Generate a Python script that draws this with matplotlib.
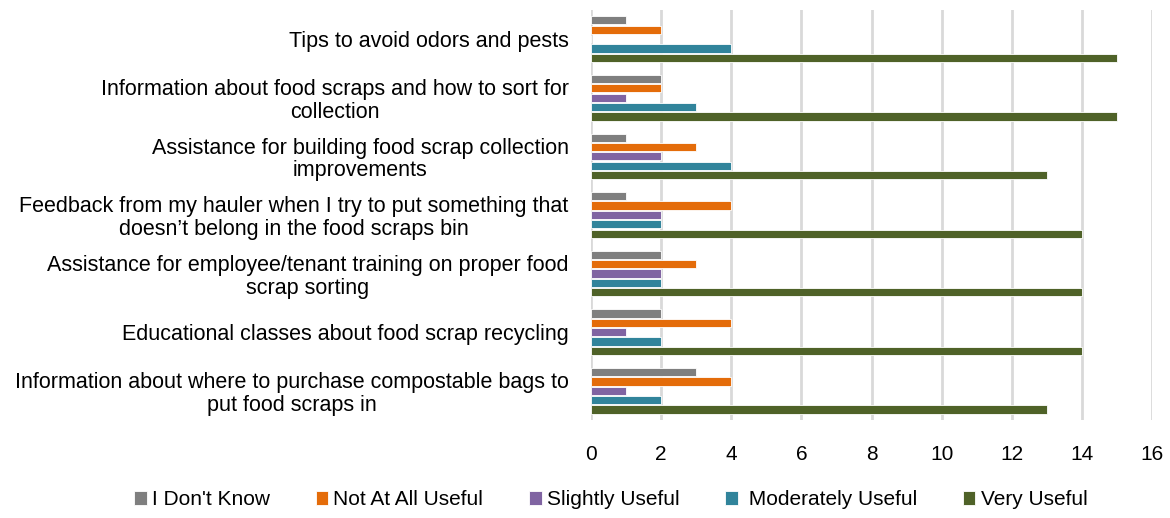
import numpy as np
import matplotlib
matplotlib.use('Agg')
import matplotlib.pyplot as plt

plt.rcParams['font.family'] = ['Liberation Sans', 'DejaVu Sans']

categories = [
    'Tips to avoid odors and pests',
    'Information about food scraps and how to sort for\ncollection',
    'Assistance for building food scrap collection\nimprovements',
    'Feedback from my hauler when I try to put something that\ndoesn\u2019t belong in the food scraps bin',
    'Assistance for employee/tenant training on proper food\nscrap sorting',
    'Educational classes about food scrap recycling',
    'Information about where to purchase compostable bags to\nput food scraps in',
]
series = ["I Don't Know", 'Not At All Useful', 'Slightly Useful', ' Moderately Useful', 'Very Useful']
dont_know = [1, 2, 1, 1, 2, 2, 3]
not_useful = [2, 2, 3, 4, 3, 4, 4]
slightly = [0, 1, 2, 2, 2, 1, 1]
moderately = [4, 3, 4, 2, 2, 2, 2]
very = [15, 15, 13, 14, 14, 14, 13]
colors = ['#7F7F7F', '#E46C0A', '#8064A2', '#31849B', '#4F6228']

fig = plt.figure(figsize=(11.7, 5.18), dpi=100)
ax = fig.add_axes([0.505, 0.189, 0.48, 0.792])

y = np.arange(len(categories))
step = 0.16
h = 0.14
for i, (vals, lab, c) in enumerate(zip([dont_know, not_useful, slightly, moderately, very], series, colors)):
    ax.barh(y + (i - 2) * step, vals, height=h, color=c, label=lab,
            edgecolor='white', linewidth=0.6, zorder=3)

ax.set_ylim(len(categories) - 0.5, -0.5)
ax.set_xlim(0, 16)
ax.set_xticks(range(0, 17, 2))
ax.set_yticks(y)
ax.set_yticklabels(categories, fontsize=15.5, ha='right', linespacing=1.1)
for lbl in ax.get_yticklabels():
    lbl.set_multialignment('center')
ax.tick_params(axis='x', labelsize=15, length=0, pad=18)
ax.tick_params(axis='y', length=0, pad=16)
ax.grid(axis='x', color='#D9D9D9', linewidth=2, zorder=0)
for s in ax.spines.values():
    s.set_visible(False)

ax.legend(loc='center', bbox_to_anchor=(0.522, 0.035), bbox_transform=fig.transFigure,
          ncol=5, frameon=False, fontsize=15, handlelength=0.6, handleheight=0.6,
          handletextpad=0.25, columnspacing=2.2)

fig.savefig('out.png', dpi=100)
